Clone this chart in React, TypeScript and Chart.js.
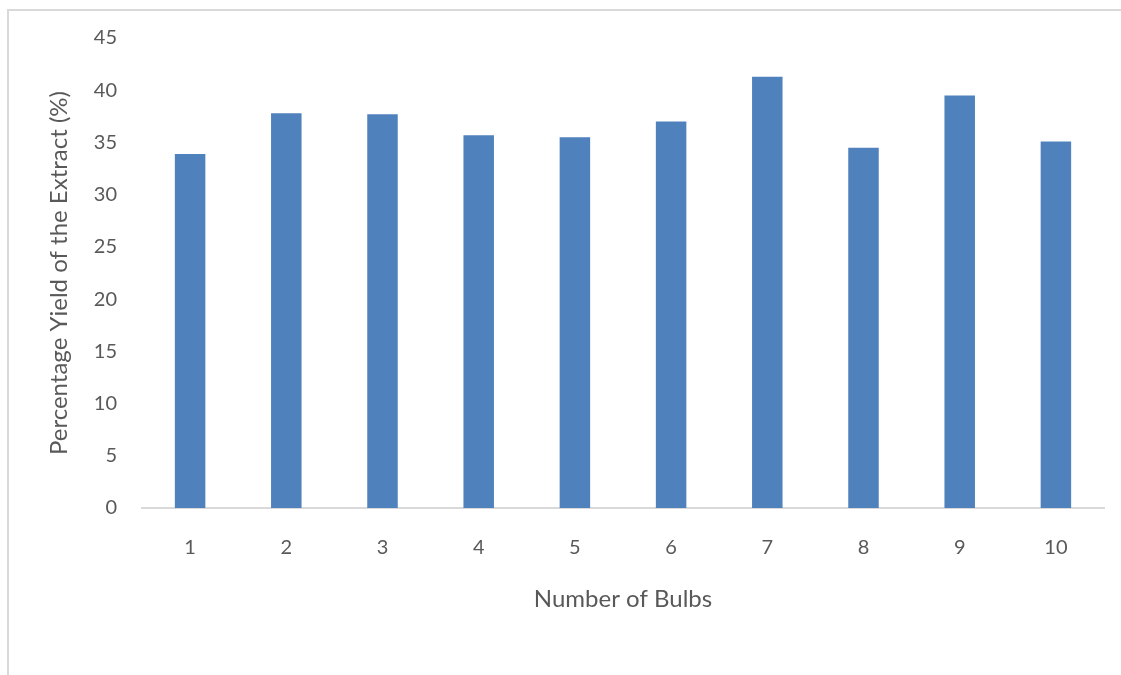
import React, { useEffect, useRef } from "react";
import { Chart, registerables } from "chart.js";

Chart.register(...registerables);

// Bulb count categories and the extract yield (%) measured for each
const bulbCounts: string[] = ["1", "2", "3", "4", "5", "6", "7", "8", "9", "10"];
const yieldPercent: number[] = [33.9, 37.8, 37.7, 35.7, 35.5, 37.0, 41.3, 34.5, 39.5, 35.1];

// Value axis range
const yMin = 0;
const yMax = 45;
const yStep = 5;

const xTitle = "Number of Bulbs";
const yTitle = "Percentage Yield of the Extract (%)";

const FONT = "Lato, 'Open Sans', sans-serif";
const TEXT = "#595959";
const BAR = "#4F81BD";
const LINE = "#D9D9D9";

export default function App() {
  const canvasRef = useRef<HTMLCanvasElement | null>(null);

  useEffect(() => {
    if (!canvasRef.current) return;
    const chart = new Chart(canvasRef.current, {
      type: "bar",
      data: {
        labels: bulbCounts,
        datasets: [
          {
            label: "Yield",
            data: yieldPercent,
            backgroundColor: BAR,
            borderWidth: 0,
            barPercentage: 0.317,
            categoryPercentage: 1,
          },
        ],
      },
      options: {
        animation: false,
        responsive: false,
        maintainAspectRatio: false,
        layout: { padding: { left: 0, top: 38, right: 17, bottom: 0 } },
        plugins: {
          legend: { display: false },
          tooltip: { enabled: false },
        },
        scales: {
          x: {
            grid: { display: false, drawTicks: false },
            border: { display: true, color: LINE, width: 2 },
            ticks: {
              color: TEXT,
              font: { family: FONT, size: 20 },
              padding: 28,
            },
            title: {
              display: true,
              text: xTitle,
              color: TEXT,
              font: { family: FONT, size: 24 },
              padding: { top: 0, bottom: 61 },
            },
            afterFit: (scale: any) => {
              scale.height = 167;
            },
          },
          y: {
            min: yMin,
            max: yMax,
            grid: { display: false, drawTicks: false },
            border: { display: false },
            ticks: {
              stepSize: yStep,
              color: TEXT,
              font: { family: FONT, size: 20 },
              padding: 25,
            },
            title: {
              display: true,
              text: yTitle,
              color: TEXT,
              font: { family: FONT, size: 24 },
              padding: { top: 45, bottom: 0 },
            },
            afterFit: (scale: any) => {
              scale.width = 142;
            },
          },
        },
      },
    });
    return () => chart.destroy();
  }, []);

  return (
    <div style={{ position: "fixed", inset: 0, overflow: "hidden", background: "#fff" }}>
      <div
        style={{
          position: "absolute",
          left: 7,
          top: 9,
          width: 2000,
          height: 2000,
          borderLeft: `2px solid ${LINE}`,
          borderTop: `2px solid ${LINE}`,
        }}
      />
      <canvas
        ref={canvasRef}
        width={1121}
        height={675}
        style={{ position: "absolute", left: 0, top: 0, width: 1121, height: 675 }}
      />
    </div>
  );
}
